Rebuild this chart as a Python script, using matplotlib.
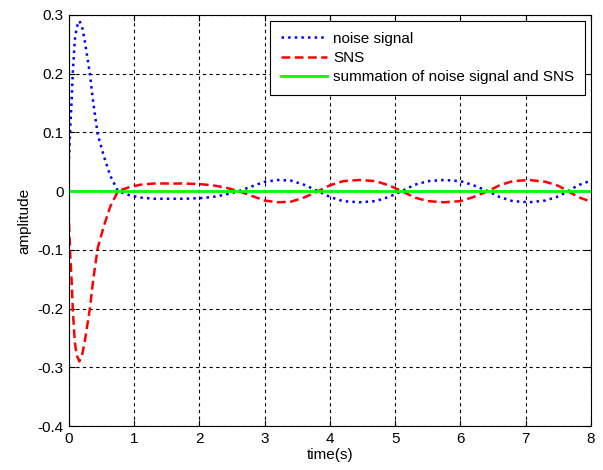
import matplotlib
matplotlib.use("Agg")
import matplotlib.pyplot as plt

# sampled response of the noise and of the suppression signal (SNS)
t_noise = [0, 0.02, 0.04, 0.06, 0.09, 0.12, 0.16, 0.2, 0.245, 0.32, 0.37, 0.44,
           0.53, 0.63, 0.75, 0.93, 1.1, 1.3, 1.5, 1.75, 2.0, 2.2, 2.4, 2.6, 2.8,
           3.0, 3.2, 3.4, 3.6, 3.82, 4.0, 4.2, 4.45, 4.7, 4.9, 5.1, 5.3, 5.5,
           5.75, 6.0, 6.2, 6.42, 6.6, 6.8, 7.05, 7.3, 7.5, 7.65, 7.8, 8.0]
noise = [0.055, 0.11, 0.152, 0.205, 0.258, 0.28, 0.29, 0.28, 0.254, 0.2, 0.152,
         0.097, 0.061, 0.027, 0.0, -0.007, -0.011, -0.013, -0.013, -0.013,
         -0.012, -0.01, -0.006, 0.0, 0.008, 0.016, 0.019, 0.018, 0.011, 0.0,
         -0.01, -0.017, -0.019, -0.017, -0.01, 0.0, 0.011, 0.017, 0.019, 0.017,
         0.01, 0.0, -0.01, -0.017, -0.019, -0.016, -0.009, 0.0, 0.01, 0.018]
sns = [-0.055, -0.11, -0.152, -0.205, -0.258, -0.28, -0.29, -0.28, -0.254, -0.2,
       -0.152, -0.097, -0.061, -0.027, 0.0, 0.007, 0.011, 0.013, 0.013, 0.013,
       0.012, 0.01, 0.006, 0.0, -0.008, -0.016, -0.019, -0.018, -0.011, 0.0,
       0.01, 0.017, 0.019, 0.017, 0.01, 0.0, -0.011, -0.017, -0.019, -0.017,
       -0.01, 0.0, 0.01, 0.017, 0.019, 0.016, 0.009, 0.0, -0.01, -0.018]
t_sum = [0, 8]
total = [0.0, 0.0]

plt.rcParams["font.family"] = ["Liberation Sans", "DejaVu Sans"]
plt.rcParams["font.size"] = 11

fig = plt.figure(figsize=(6.03, 4.70), dpi=100)
ax = fig.add_axes([0.1144, 0.0936, 0.8657, 0.8745])

ax.plot(t_noise, noise, color="#0000ff", ls=":", lw=1.8, label="noise signal")
ax.plot(t_noise, sns, color="#ff0000", ls="--", lw=1.8, dashes=(3.5, 1.8), label="SNS")
ax.plot(t_sum, total, color="#00ff00", lw=2, label="summation of noise signal and SNS")

ax.set_xlim(0, 8)
ax.set_ylim(-0.4, 0.3)
ax.set_xticks(range(9))
ax.set_yticks([-0.4, -0.3, -0.2, -0.1, 0, 0.1, 0.2, 0.3])
ax.set_yticklabels(["-0.4", "-0.3", "-0.2", "-0.1", "0", "0.1", "0.2", "0.3"])
ax.grid(True, color="black", ls=(0, (3, 3)), lw=0.8)
ax.tick_params(direction="in", top=True, right=True, length=4, pad=4)
for s in ax.spines.values():
    s.set_linewidth(0.8)
ax.set_xlabel("time(s)", labelpad=2)
ax.set_ylabel("amplitude", labelpad=4)

leg = ax.legend(loc="upper right", fancybox=False, framealpha=1, edgecolor="black",
                handlelength=3, handletextpad=0.4, borderpad=0.7,
                borderaxespad=0.4, labelspacing=0.35)
leg.get_frame().set_linewidth(0.8)

fig.savefig("out.png", dpi=100)
